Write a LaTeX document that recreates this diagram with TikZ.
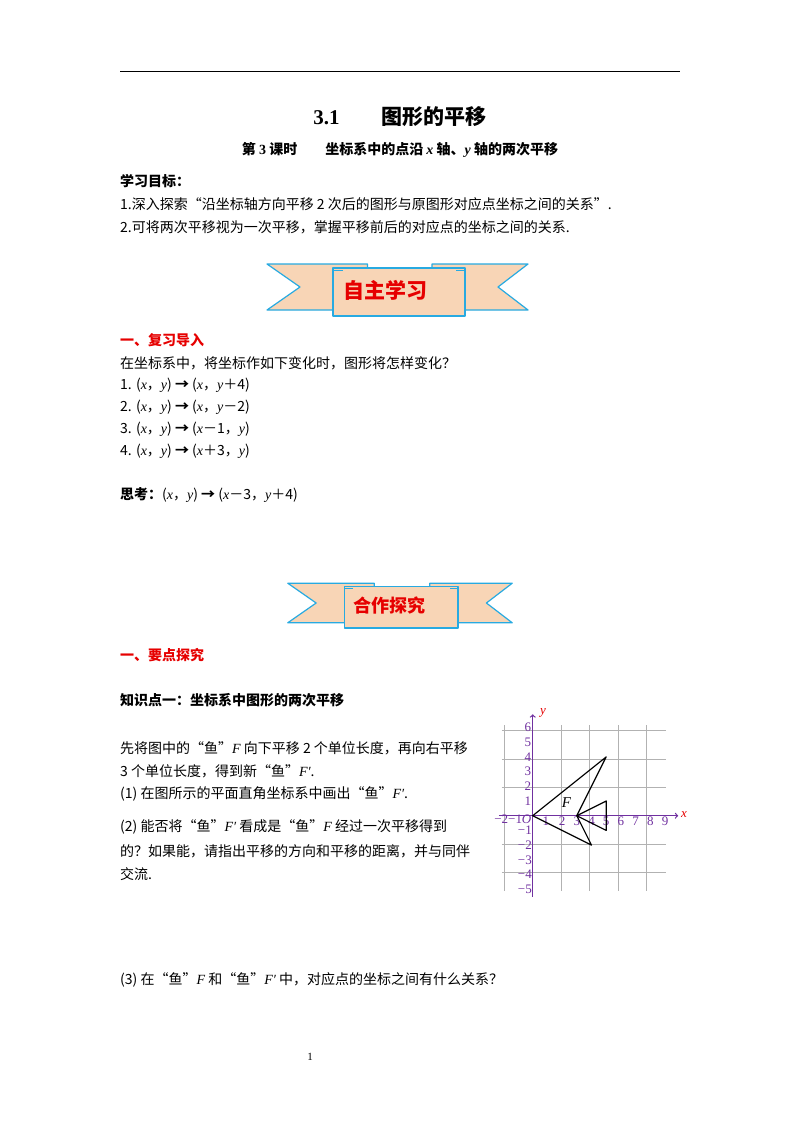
\documentclass[tikz,border=0pt]{standalone}
\usepackage{fontspec}
\setmainfont{Noto Sans CJK SC}
\newfontfamily\lat{Liberation Serif}
\newcommand\mi[1]{{\lat\itshape #1}}
\newcommand\ar{\ {\bfseries →}\ }
\begin{document}
\definecolor{peach}{RGB}{248,213,182}
\definecolor{rcyan}{RGB}{40,170,225}
\definecolor{axp}{RGB}{112,48,160}
\definecolor{rd}{RGB}{230,0,0}
\begin{tikzpicture}[x=1pt,y=-1pt,
  txt/.style={anchor=west,inner sep=0pt,font=\fontsize{14}{16}\selectfont},
  bt/.style={txt,font=\fontsize{14}{16}\selectfont\bfseries},
  rt/.style={bt,text=rd},
  rib/.style={fill=peach,draw=rcyan,line width=1.2pt,line join=round},
  al/.style={text=axp,font=\lat\fontsize{13}{14}\selectfont,inner sep=0pt}]
\useasboundingbox (0,0) rectangle (800,1132);
\fill[white] (0,0) rectangle (800,1132);
\draw[line width=1pt] (120,72) -- (680,72);
\node[inner sep=0pt,font=\fontsize{21}{24}\selectfont\bfseries] (title) at (400,117) {{\lat 3.1}\qquad 图形的平移};
\node[inner sep=0pt,font=\fontsize{14}{16}\selectfont\bfseries] (sub) at (400,150) {第 {\lat 3} 课时\qquad 坐标系中的点沿 \mi{x} 轴、\mi{y} 轴的两次平移};
\node[bt] (g) at (120,181) {学习目标：};
\node[txt] (g1) at (120,204) {1.深入探索“沿坐标轴方向平移 2 次后的图形与原图形对应点坐标之间的关系”.};
\node[txt] (g2) at (120,227) {2.可将两次平移视为一次平移，掌握平移前后的对应点的坐标之间的关系.};
\foreach \cx/\cy/\s/\lab/\nm in {397.5/287/1/自主学习/b1, 400/603/0.86/合作探究/b2}{
\begin{scope}[shift={(\cx,\cy)},scale=\s]
\draw[rib] (-130.5,-23) -- (-30,-23) -- (-30,23) -- (-130.5,23) -- (-97.5,0) -- cycle;
\draw[rib] (130.5,-23) -- (34.5,-23) -- (34.5,23) -- (130.5,23) -- (100.5,0) -- cycle;
\draw[rib] (-64.5,-19) -- (67.5,-19) -- (67.5,29) -- (-64.5,29) -- cycle;
\draw[rcyan,line width=1pt] (-64.5,-17) -- (-55,-17) (67.5,-17) -- (58,-17);
\node[text=rd,font=\fontsize{21}{24}\selectfont\bfseries,scale=\s] (\nm) at (-12,3) {\lab};
\end{scope}}
\node[rt] (s1) at (120,340) {一、复习导入};
\node[txt] (l0) at (120,363) {在坐标系中，将坐标作如下变化时，图形将怎样变化？};
\node[txt] (l1) at (120,385) {1. (\mi{x}，\mi{y})\ar(\mi{x}，\mi{y}＋4)};
\node[txt] (l2) at (120,407) {2. (\mi{x}，\mi{y})\ar(\mi{x}，\mi{y}－2)};
\node[txt] (l3) at (120,429) {3. (\mi{x}，\mi{y})\ar(\mi{x}－1，\mi{y})};
\node[txt] (l4) at (120,451) {4. (\mi{x}，\mi{y})\ar(\mi{x}＋3，\mi{y})};
\node[txt] (th) at (120,495) {\textbf{思考：}(\mi{x}，\mi{y})\ar(\mi{x}－3，\mi{y}＋4)};
\node[rt] (s2) at (120,655) {一、要点探究};
\node[bt] (k1) at (120,700) {知识点一：坐标系中图形的两次平移};
\node[txt] (p1) at (120,748) {先将图中的“鱼”\mi{F} 向下平移 2 个单位长度，再向右平移};
\node[txt] (p2) at (120,771) {3 个单位长度，得到新“鱼”\mi{F′}.};
\node[txt] (p3) at (120,794) {(1) 在图所示的平面直角坐标系中画出“鱼”\mi{F′}.};
\node[txt] (p4) at (120,827) {(2) 能否将“鱼”\mi{F′} 看成是“鱼”\mi{F} 经过一次平移得到};
\node[txt] (p5) at (120,851) {的？如果能，请指出平移的方向和平移的距离，并与同伴};
\node[txt] (p6) at (120,874) {交流.};
\node[txt] (p7) at (120,980) {(3) 在“鱼”\mi{F} 和“鱼”\mi{F′} 中，对应点的坐标之间有什么关系？};
\node[inner sep=0pt,font=\lat\fontsize{11}{13}\selectfont] (pg) at (310,1057) {1};
\begin{scope}[shift={(532.7,815.7)},x=14.7pt,y=14.7pt]
\draw[gray!60,line width=0.6pt] (-2.1,-5.1) grid (9.1,6.2);
\draw[axp,line width=1.2pt,->] (-2.3,0) -- (9.9,0);
\draw[axp,line width=1.2pt,->] (0,-5.5) -- (0,6.9);
\node[text=rd,font=\lat\itshape\fontsize{13}{14}\selectfont,inner sep=0pt] (xl) at (10.3,0.1) {x};
\node[text=rd,font=\lat\itshape\fontsize{13}{14}\selectfont,inner sep=0pt] (yl) at (0.7,7.0) {y};
\foreach \i in {1,...,6}{\node[al,anchor=east] (ya\i) at (-0.1,\i) {\i};}
\foreach \i in {1,...,5}{\node[al,anchor=east] (yb\i) at (-0.05,-\i) {−\i};}
\foreach \i in {2,3,4,5,6,7,8,9}{\node[al] (xa\i) at (\i,-0.4) {\i};}
\node[al] (xa1) at (0.9,-0.4) {1};
\node[al] (xo) at (-1.35,-0.25) {−2−1{\itshape O}};
\draw[black,line width=1.2pt,line join=round] (0,0) -- (5,4) -- (3,0) -- (4,-2) -- cycle;
\draw[black,line width=1.2pt,line join=round] (3,0) -- (5,1) -- (5,-1) -- cycle;
\node[font=\lat\itshape\fontsize{15}{16}\selectfont,inner sep=0pt] (F) at (2.3,0.9) {F};
\end{scope}
\end{tikzpicture}
\end{document}
